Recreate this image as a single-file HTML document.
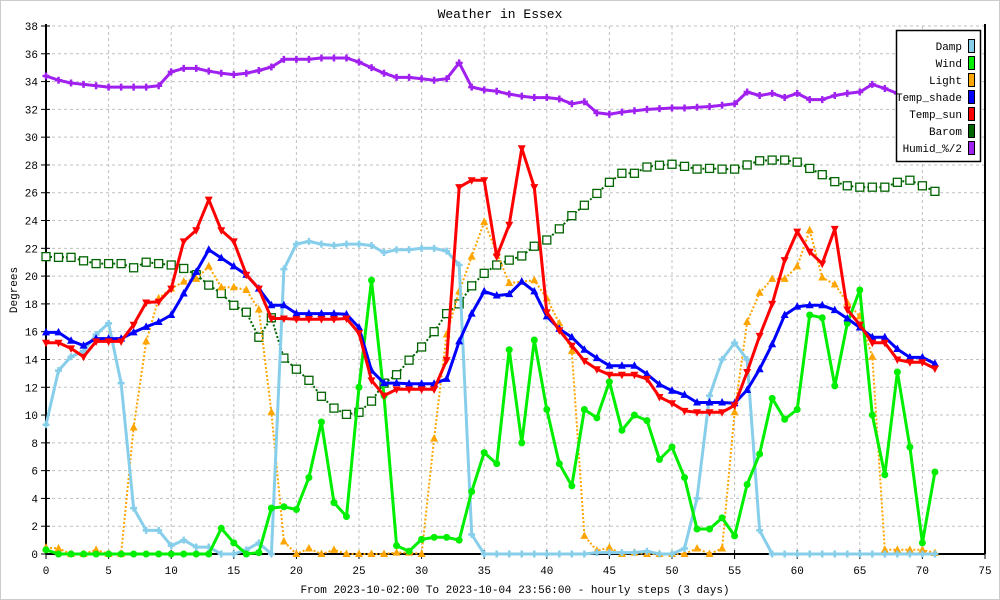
<!DOCTYPE html>
<html><head><meta charset="utf-8"><style>
html,body{margin:0;padding:0;background:#fff}
svg{display:block;font-family:"Liberation Mono",monospace}
</style></head><body>
<svg id="chart" width="1000" height="600" viewBox="0 0 1000 600" xmlns="http://www.w3.org/2000/svg">
<rect x="0.5" y="0.5" width="999" height="599" fill="#fff" stroke="#ccc"/>
<text x="500" y="18" text-anchor="middle" font-size="13">Weather in Essex</text>
<text transform="translate(17,290) rotate(-90)" text-anchor="middle" font-size="11">Degrees</text>
<text x="515" y="593" text-anchor="middle" font-size="11">From 2023-10-02:00 To 2023-10-04 23:56:00 - hourly steps (3 days)</text>
<g id="grid"></g>
<g id="axes"></g>
<g id="series"></g>
<g id="legend"></g>
</svg>
<script>
const xTicks=[0,5,10,15,20,25,30,35,40,45,50,55,60,65,70,75];
const yTicks=[0,2,4,6,8,10,12,14,16,18,20,22,24,26,28,30,32,36,34,38];
const seriesNames=["Damp","Wind","Light","Temp_shade","Temp_sun","Barom","Humid_%/2"];
const damp=[9.3,13.2,14.2,14.6,15.8,16.6,12.3,3.3,1.7,1.7,0.6,1.0,0.5,0.5,0,0,0.3,0.8,0,20.5,22.3,22.5,22.3,22.2,22.3,22.3,22.2,21.7,21.9,21.9,22.0,22.0,21.8,20.8,1.4,0,0,0,0,0,0,0,0,0,0.1,0.1,0.1,0.1,0.2,0,0,0.4,4.0,11.4,14.0,15.2,14.0,1.7,0,0,0,0,0,0,0,0,0,0,0,0,0,0];
const wind=[0.3,0,0,0,0,0,0,0,0,0,0,0,0,0,1.85,0.8,0,0.1,3.3,3.4,3.2,5.5,9.5,3.7,2.7,12.0,19.7,11.4,0.6,0.2,1.05,1.2,1.2,1.0,4.5,7.3,6.5,14.7,8.0,15.4,10.4,6.5,4.9,10.4,9.8,12.4,8.9,10.0,9.6,6.8,7.7,5.5,1.8,1.8,2.6,1.3,5.0,7.2,11.2,9.7,10.4,17.2,17.0,12.1,16.6,19.0,10.0,5.7,13.1,7.7,0.8,5.9];
const light=[0.46,0.4,0,0,0.3,0,0,9.1,15.3,18.4,19.1,19.6,19.8,20.7,19.2,19.2,19.0,17.6,10.2,0.9,0,0.4,0,0.3,0,0,0,0,0.1,0.1,0,8.3,15.8,18.9,21.4,23.9,21.7,19.5,19.6,19.7,18.4,16.6,14.6,1.3,0.24,0.46,0,0.1,0,0,0,0,0.4,0,0.4,10.2,16.7,18.8,19.8,19.8,20.7,23.3,19.9,19.4,18.1,17.1,14.2,0.3,0.3,0.3,0.3,0.07];
const tempShade=[15.95,15.95,15.35,15.0,15.5,15.5,15.5,15.95,16.35,16.7,17.2,18.75,20.3,21.9,21.3,20.7,20.1,19.1,17.9,17.9,17.3,17.3,17.3,17.3,17.25,16.3,13.2,12.3,12.3,12.25,12.25,12.25,12.6,15.3,17.3,18.9,18.6,18.7,19.6,18.9,17.1,16.2,15.6,14.7,14.1,13.55,13.55,13.55,12.95,12.2,11.75,11.45,10.9,10.9,10.9,10.85,11.8,13.3,15.1,17.2,17.8,17.9,17.9,17.55,16.95,16.3,15.6,15.6,14.75,14.15,14.15,13.7];
const tempSun=[15.2,15.2,14.8,14.2,15.3,15.3,15.3,16.5,18.1,18.15,19.1,22.5,23.3,25.5,23.3,22.5,20.1,19.1,16.95,16.95,16.9,16.9,16.9,16.9,16.95,15.9,12.5,11.4,11.85,11.85,11.85,11.85,13.95,26.4,26.9,26.9,21.4,23.7,29.2,26.4,17.4,16.1,15.0,13.9,13.3,12.9,12.9,12.9,12.6,11.3,10.85,10.3,10.2,10.2,10.2,10.7,13.1,15.7,18.0,21.15,23.2,21.75,20.9,23.4,17.6,16.5,15.2,15.2,14.0,13.8,13.8,13.35];
const barom=[21.4,21.35,21.35,21.1,20.9,20.9,20.9,20.6,21.0,20.9,20.8,20.55,20.1,19.35,18.75,17.9,17.4,15.6,17.0,14.1,13.3,12.5,11.35,10.5,10.05,10.2,11.0,12.3,12.9,13.95,14.9,16.0,17.3,18.0,19.3,20.2,20.8,21.15,21.45,22.15,22.6,23.4,24.35,25.1,25.95,26.75,27.4,27.4,27.85,27.98,28.05,27.9,27.7,27.75,27.7,27.7,28.0,28.3,28.35,28.35,28.2,27.75,27.3,26.8,26.5,26.4,26.4,26.4,26.75,26.9,26.5,26.1];
const humid=[34.4,34.1,33.9,33.8,33.7,33.6,33.6,33.6,33.6,33.7,34.7,34.95,34.95,34.75,34.6,34.5,34.6,34.8,35.05,35.6,35.6,35.6,35.7,35.7,35.7,35.4,35.0,34.6,34.3,34.3,34.2,34.1,34.2,35.35,33.6,33.4,33.3,33.1,32.95,32.85,32.85,32.75,32.4,32.55,31.75,31.65,31.8,31.9,32.0,32.05,32.1,32.1,32.15,32.2,32.3,32.4,33.25,33.0,33.15,32.85,33.15,32.7,32.7,33.0,33.15,33.25,33.8,33.5,33.15,33.0,33.0,33.0];
const allSeries=[damp,wind,light,tempShade,tempSun,barom,humid];
const colors=["#87ceeb","#00ee00","#ffa500","#0000ff","#ff0000","#006400","#a020f0"];
const NS="http://www.w3.org/2000/svg";
const X0=46,X1=985,Y0=554,Y1=26;
function xs(v){return X0+v*(X1-X0)/75;}
function ys(v){return Y0-v*(Y0-Y1)/38;}
function mk(tag,attrs,parent){const e=document.createElementNS(NS,tag);for(const k in attrs)e.setAttribute(k,attrs[k]);parent.appendChild(e);return e;}
const grid=document.getElementById('grid'),axes=document.getElementById('axes'),ser=document.getElementById('series'),leg=document.getElementById('legend');
yTicks.forEach(t=>{
  const g=mk('line',{x1:X0,x2:X1,y1:ys(t),y2:ys(t),stroke:'#c0c0c0','stroke-dasharray':'3,3'},grid);
  
  
  const tk=mk('line',{x1:X0-5,x2:X0+4,y1:ys(t),y2:ys(t),stroke:'#000'},axes);
  
  
  const l=mk('text',{x:X0-8,y:ys(t)+4,'text-anchor':'end','font-size':'11'},axes);
  l.textContent=t;
  
  
});
xTicks.forEach(t=>{
  const g=mk('line',{x1:xs(t),x2:xs(t),y1:Y1,y2:Y0,stroke:'#c0c0c0','stroke-dasharray':'3,3'},grid);
  
  
  const tk=mk('line',{x1:xs(t),x2:xs(t),y1:Y0-4,y2:Y0+5,stroke:'#000'},axes);
  
  
  const l=mk('text',{x:xs(t),y:Y0+20,'text-anchor':'middle','font-size':'11'},axes);
  l.textContent=t;
  
  
});
const la=mk('line',{x1:X0,x2:X0,y1:Y1-2,y2:Y0,stroke:'#000','stroke-width':2},axes);


const ba=mk('line',{x1:X0,x2:X1,y1:Y0,y2:Y0,stroke:'#000','stroke-width':2},axes);


const ra=mk('line',{x1:X1,x2:X1,y1:Y1-2,y2:Y0,stroke:'#000','stroke-width':2},axes);


const dotted=[false,false,true,false,false,true,false];
const order=[5,2,0,1,3,4,6];
order.forEach(si=>{
  const d=allSeries[si],c=colors[si];
  const g=mk('g',{},ser);
  
  
  const pts=d.map((v,i)=>xs(i).toFixed(1)+','+ys(v).toFixed(1)).join(' ');
  const pl=mk('polyline',{points:pts,fill:'none',stroke:c,'stroke-width':dotted[si]?2:3,'stroke-linejoin':'round'},g);
  if(dotted[si])pl.setAttribute('stroke-dasharray','2,2');
  
  
  d.forEach((v,i)=>{
    const x=xs(i),y=ys(v);let m;
    if(si===1)m=mk('circle',{cx:x,cy:y,r:3.5,fill:c},g);
    else if(si===2||si===3)m=mk('polygon',{points:`${x},${y-4.5} ${x-4},${y+3} ${x+4},${y+3}`,fill:c},g);
    else if(si===4)m=mk('polygon',{points:`${x},${y+4.5} ${x-4},${y-3} ${x+4},${y-3}`,fill:c},g);
    else if(si===5){m=mk('rect',{x:x-4,y:y-4,width:8,height:8,fill:'#fff',stroke:c,'stroke-width':1.3},g);}
    else m=mk('path',{d:`M${x-3.5},${y}H${x+3.5}M${x},${y-3.5}V${y+3.5}`,stroke:c,'stroke-width':2.5},g);
    
    
  });
});
const lb=mk('rect',{x:896.5,y:30.5,width:84,height:131,fill:'#fff',stroke:'#000','stroke-width':1.5},leg);


seriesNames.forEach((n,i)=>{
  const y=46+i*17;
  const g=mk('g',{},leg);
  
  
  const t=mk('text',{x:962,y:y+4,'text-anchor':'end','font-size':'11'},g);
  t.textContent=n;
  const s=mk('rect',{x:968.5,y:y-6.5,width:6,height:13,fill:colors[i],stroke:'#000','stroke-width':1},g);
  
  
});
</script>
</body></html>
